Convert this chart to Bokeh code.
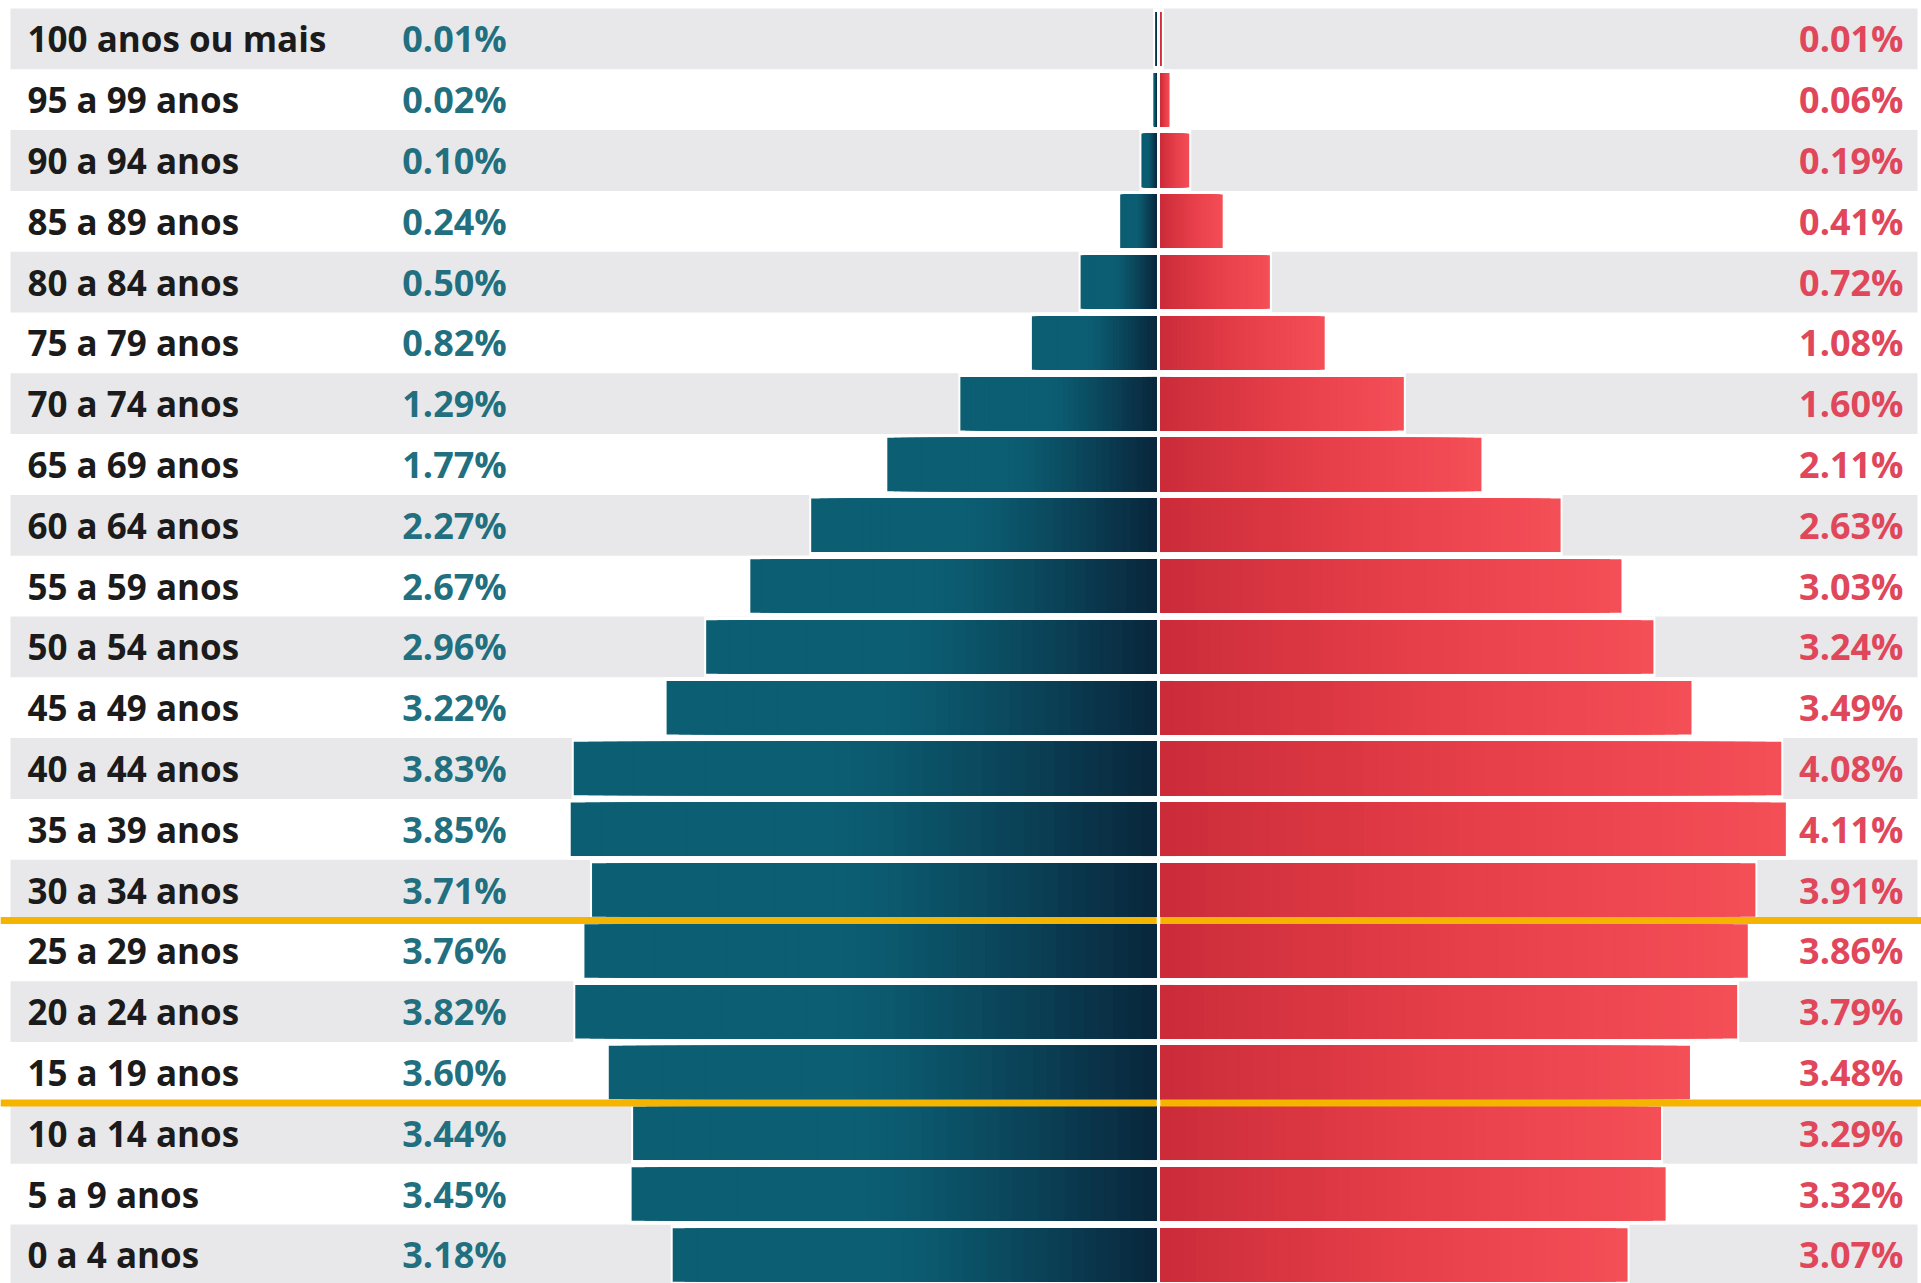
import numpy as np
from bokeh.plotting import figure
from bokeh.models import ColumnDataSource
from bokeh.core.properties import value
from bokeh.embed import file_html
from bokeh.resources import INLINE

# ---------------- data ----------------
ages = ["100 anos ou mais", "95 a 99 anos", "90 a 94 anos", "85 a 89 anos",
        "80 a 84 anos", "75 a 79 anos", "70 a 74 anos", "65 a 69 anos",
        "60 a 64 anos", "55 a 59 anos", "50 a 54 anos", "45 a 49 anos",
        "40 a 44 anos", "35 a 39 anos", "30 a 34 anos", "25 a 29 anos",
        "20 a 24 anos", "15 a 19 anos", "10 a 14 anos", "5 a 9 anos",
        "0 a 4 anos"]
male = [0.01, 0.02, 0.10, 0.24, 0.50, 0.82, 1.29, 1.77, 2.27, 2.67, 2.96,
        3.22, 3.83, 3.85, 3.71, 3.76, 3.82, 3.60, 3.44, 3.45, 3.18]
female = [0.01, 0.06, 0.19, 0.41, 0.72, 1.08, 1.60, 2.11, 2.63, 3.03, 3.24,
          3.49, 4.08, 4.11, 3.91, 3.86, 3.79, 3.48, 3.29, 3.32, 3.07]
highlight_first = "25 a 29 anos"
highlight_last = "15 a 19 anos"

# ---------------- layout ----------------
W, H = 1921, 1283
PX_PER_PCT = 152.2
CENTER_PX = 1158
ROW_PX = 60.8
TOP_PX = 8
n = len(ages)
ypos = [n - 1 - i for i in range(n)]          # top row highest
x0 = -CENTER_PX / PX_PER_PCT
x1 = (W - CENTER_PX) / PX_PER_PCT
y_top = n - 0.5 + TOP_PX / ROW_PX
y_bot = y_top - H / ROW_PX
GAP = 1.8 / PX_PER_PCT
HALO = 2.0 / PX_PER_PCT
BAR_H = 0.88

p = figure(width=W, height=H, x_range=(x0, x1), y_range=(y_bot, y_top),
           output_backend="svg", toolbar_location=None, min_border=0,
           background_fill_color="white", border_fill_color="white")
p.axis.visible = False
p.grid.visible = False
p.outline_line_color = None

# zebra bands
band_y = [y for i, y in enumerate(ypos) if i % 2 == 0]
p.quad(left=(10 - CENTER_PX) / PX_PER_PCT, right=(1917 - CENTER_PX) / PX_PER_PCT,
       bottom=[y - 0.5 for y in band_y], top=[y + 0.5 for y in band_y],
       fill_color="#e8e8ea", line_color=None)

# white halos around bars
p.quad(left=[-(GAP + v + HALO) for v in male], right=0,
       bottom=[y - 0.5 for y in ypos], top=[y + 0.5 for y in ypos],
       fill_color="white", line_color=None)
p.quad(left=0, right=[GAP + v + HALO for v in female],
       bottom=[y - 0.5 for y in ypos], top=[y + 0.5 for y in ypos],
       fill_color="white", line_color=None)

# gradient bars: overlapping slices, each running to the bar's inner end
def lerp(c1, c2, t):
    return tuple(int(round(a + (b - a) * t)) for a, b in zip(c1, c2))

def hexc(c):
    return "#%02x%02x%02x" % c

TEAL = (12, 94, 115)
TEAL_DARK = (9, 38, 60)
RED_IN = (203, 44, 57)
RED_MID = (232, 64, 75)
RED_OUT = (244, 78, 87)
N = 40

L, R, B, T, C = [], [], [], [], []
for v, y in zip(male, ypos):
    for k in range(N):
        a = k / N
        t = (k + 0.5) / N  # 0 outer -> 1 inner
        if t < 0.45:
            col = TEAL
        else:
            col = lerp(TEAL, TEAL_DARK, ((t - 0.45) / 0.55) ** 1.2)
        L.append(-(GAP + v * (1 - a)))
        R.append(-GAP)
        B.append(y - BAR_H / 2)
        T.append(y + BAR_H / 2)
        C.append(hexc(col))
for v, y in zip(female, ypos):
    for k in range(N - 1, -1, -1):
        b = (k + 1) / N
        t = (k + 0.5) / N  # 0 inner -> 1 outer
        if t < 0.55:
            col = lerp(RED_IN, RED_MID, t / 0.55)
        else:
            col = lerp(RED_MID, RED_OUT, (t - 0.55) / 0.45)
        L.append(GAP)
        R.append(GAP + v * b)
        B.append(y - BAR_H / 2)
        T.append(y + BAR_H / 2)
        C.append(hexc(col))
p.quad(left=L, right=R, bottom=B, top=T, fill_color=C, line_color=None)

# highlight lines
ya = ypos[ages.index(highlight_first)] + 0.5
yb = ypos[ages.index(highlight_last)] - 0.5
p.segment(x0=[x0, x0, GAP, GAP], x1=[-GAP, -GAP, x1, x1],
          y0=[ya, yb, ya, yb], y1=[ya, yb, ya, yb],
          line_color="#f5b400", line_width=7)

FONT = value("Open Sans")
src = ColumnDataSource(dict(
    y=ypos, age=ages,
    ml=[f"{v:.2f}%" for v in male],
    fl=[f"{v:.2f}%" for v in female]))
p.text(x=(27 - CENTER_PX) / PX_PER_PCT, y="y", text="age", source=src,
       text_font=FONT, text_font_style="bold", text_font_size="35px",
       text_color="#1b1b1b", text_align="left", text_baseline="middle")
p.text(x=(454 - CENTER_PX) / PX_PER_PCT, y="y", text="ml", source=src,
       text_font=FONT, text_font_style="bold", text_font_size="36px",
       text_color="#22707f", text_align="center", text_baseline="middle")
p.text(x=(1903 - CENTER_PX) / PX_PER_PCT, y="y", text="fl", source=src,
       text_font=FONT, text_font_style="bold", text_font_size="36px",
       text_color="#e0475a", text_align="right", text_baseline="middle")

open("out.html", "w").write(file_html(p, INLINE))
